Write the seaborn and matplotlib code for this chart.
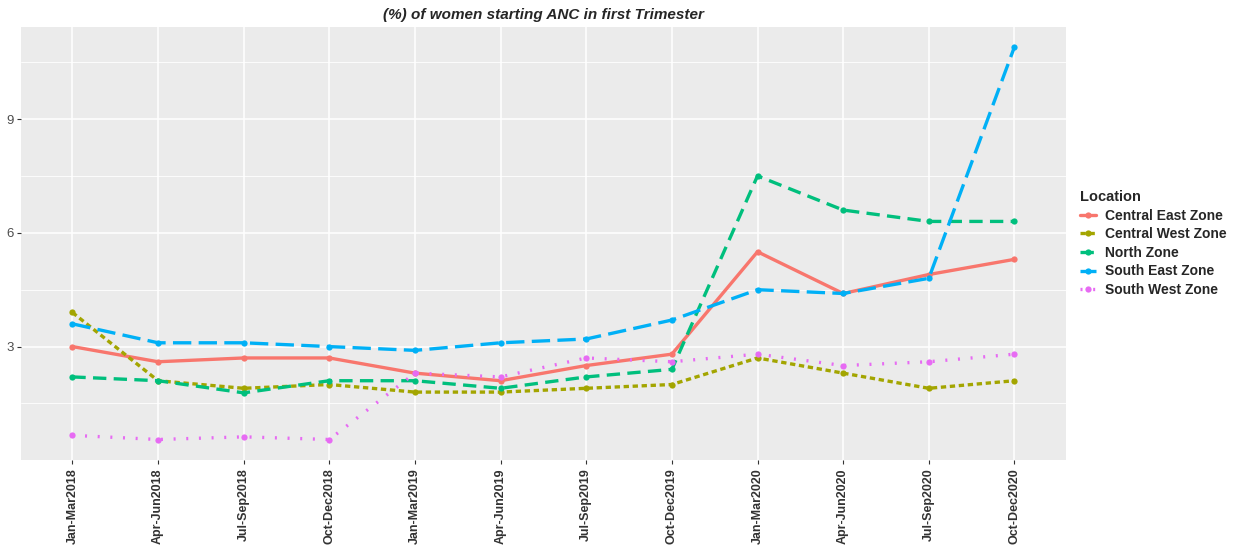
import pandas as pd
import matplotlib.pyplot as plt
import seaborn as sns
from matplotlib.ticker import MultipleLocator

quarters = ["Jan-Mar2018", "Apr-Jun2018", "Jul-Sep2018", "Oct-Dec2018",
            "Jan-Mar2019", "Apr-Jun2019", "Jul-Sep2019", "Oct-Dec2019",
            "Jan-Mar2020", "Apr-Jun2020", "Jul-Sep2020", "Oct-Dec2020"]
zones = ["Central East Zone", "Central West Zone", "North Zone",
         "South East Zone", "South West Zone"]

central_east = [3.0, 2.6, 2.7, 2.7, 2.3, 2.1, 2.5, 2.8, 5.5, 4.4, 4.9, 5.3]
central_west = [3.9, 2.1, 1.9, 2.0, 1.8, 1.8, 1.9, 2.0, 2.7, 2.3, 1.9, 2.1]
north = [2.2, 2.1, 1.78, 2.1, 2.1, 1.9, 2.2, 2.4, 7.5, 6.6, 6.3, 6.3]
south_east = [3.6, 3.1, 3.1, 3.0, 2.9, 3.1, 3.2, 3.7, 4.5, 4.4, 4.8, 10.9]
south_west = [0.66, 0.55, 0.62, 0.55, 2.3, 2.2, 2.7, 2.6, 2.8, 2.5, 2.6, 2.8]

colors = ["#F8766D", "#A3A500", "#00BF7D", "#00B0F6", "#E76BF3"]

#long table for seaborn
series = [central_east, central_west, north, south_east, south_west]
rows = []
for z, vals in zip(zones, series):
    for q, v in zip(quarters, vals):
        rows.append({"Quarter": q, "Value": v, "Location": z})
df = pd.DataFrame(rows)
df["Quarter"] = pd.Categorical(df["Quarter"], categories=quarters, ordered=True)
df["pos"] = df["Quarter"].cat.codes

sns.set_theme(style="darkgrid", rc={"axes.facecolor": "#EBEBEB",
                                    "grid.color": "white"})
plt.rcParams['font.family'] = ['Liberation Sans', 'DejaVu Sans']

fig = plt.figure(figsize=(12.35, 5.45), dpi=100)
ax = fig.add_axes([0.017, 0.156, 0.846, 0.794])

dashes = {"Central East Zone": "",
          "Central West Zone": (1.6, 1.1),
          "North Zone": (4.0, 2.2),
          "South East Zone": (5.5, 2.2),
          "South West Zone": (0.6, 3.2)}
markers = {z: "o" for z in zones}

sns.lineplot(data=df, x="pos", y="Value", hue="Location", style="Location",
             hue_order=zones, style_order=zones, palette=colors,
             dashes=dashes, markers=markers, markersize=4.5,
             markeredgewidth=0, linewidth=2.4, ax=ax)

ax.set_xlim(-0.6, len(quarters) - 1 + 0.6)
ax.set_ylim(0.01, 11.42)
ax.set_xticks(range(len(quarters)))
ax.set_xticklabels(quarters, rotation=90, fontweight="bold", fontsize=9,
                   color="#333333")
ax.set_yticks([3, 6, 9])
ax.yaxis.set_minor_locator(MultipleLocator(1.5))
ax.tick_params(axis="y", labelsize=9.5, colors="#4D4D4D", length=3,
               width=0.8, pad=2)
ax.tick_params(axis="x", length=3, width=0.8, pad=3)
ax.tick_params(which="both", left=True, bottom=True, color="#333333")
ax.tick_params(which="minor", left=False)
ax.grid(which="major", color="white", linewidth=1.1)
ax.grid(which="minor", axis="y", color="white", linewidth=0.6)
ax.set_xlabel("")
ax.set_ylabel("")
for s in ax.spines.values():
    s.set_visible(False)

ax.set_title("(%) of women starting ANC in first Trimester",
             fontsize=11, fontweight="bold", fontstyle="italic", pad=6)

leg = ax.legend(title="Location", loc="center left",
                bbox_to_anchor=(1.004, 0.50), frameon=False,
                prop={"weight": "bold", "size": 10}, handlelength=1.2,
                handletextpad=0.6, labelspacing=0.33, borderpad=0.2)
leg.get_title().set_fontweight("bold")
leg.get_title().set_fontsize(10.5)
leg._legend_box.align = "left"

plt.savefig("out.png", dpi=100)
